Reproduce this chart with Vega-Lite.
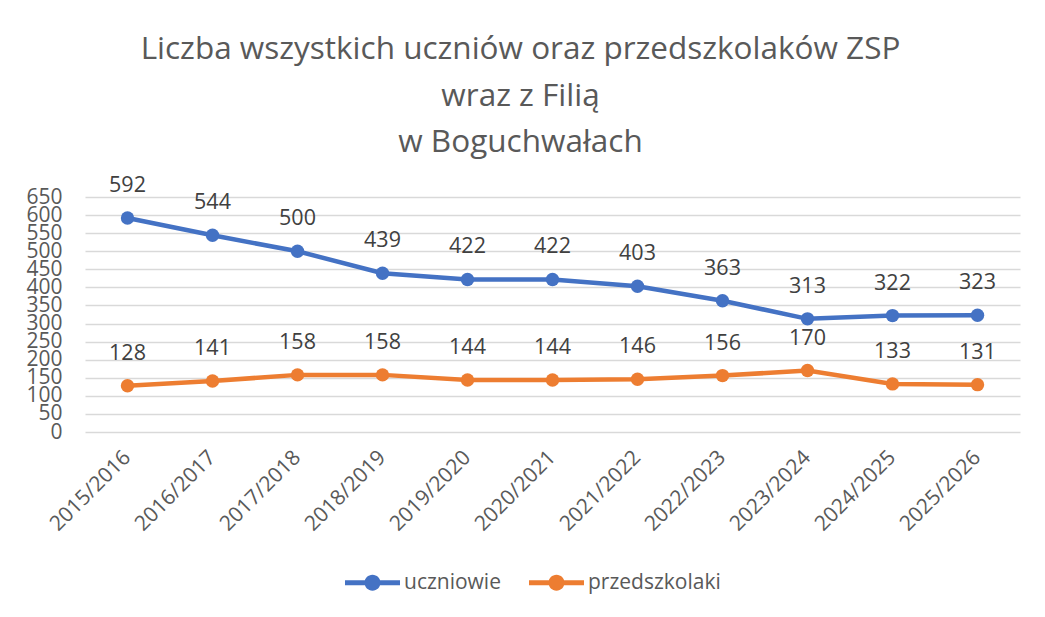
{
  "$schema": "https://vega.github.io/schema/vega-lite/v6.json",
  "width": 935,
  "height": 235,
  "autosize": {"type": "none"},
  "padding": {"left": 85, "top": 197, "right": 25, "bottom": 185},
  "background": "white",
  "config": {
    "font": "Open Sans",
    "view": {"stroke": null}
  },
  "title": {
    "text": ["Liczba wszystkich uczniów oraz przedszkolaków ZSP", "wraz z Filią", "w Boguchwałach"],
    "fontSize": 31.5,
    "fontWeight": "normal",
    "color": "#595959",
    "anchor": "middle",
    "lineHeight": 46.5,
    "offset": 16,
    "dx": -32
  },
  "data": {
    "values": [
      {"rok": "2015/2016", "seria": "uczniowie", "liczba": 592},
      {"rok": "2016/2017", "seria": "uczniowie", "liczba": 544},
      {"rok": "2017/2018", "seria": "uczniowie", "liczba": 500},
      {"rok": "2018/2019", "seria": "uczniowie", "liczba": 439},
      {"rok": "2019/2020", "seria": "uczniowie", "liczba": 422},
      {"rok": "2020/2021", "seria": "uczniowie", "liczba": 422},
      {"rok": "2021/2022", "seria": "uczniowie", "liczba": 403},
      {"rok": "2022/2023", "seria": "uczniowie", "liczba": 363},
      {"rok": "2023/2024", "seria": "uczniowie", "liczba": 313},
      {"rok": "2024/2025", "seria": "uczniowie", "liczba": 322},
      {"rok": "2025/2026", "seria": "uczniowie", "liczba": 323},
      {"rok": "2015/2016", "seria": "przedszkolaki", "liczba": 128},
      {"rok": "2016/2017", "seria": "przedszkolaki", "liczba": 141},
      {"rok": "2017/2018", "seria": "przedszkolaki", "liczba": 158},
      {"rok": "2018/2019", "seria": "przedszkolaki", "liczba": 158},
      {"rok": "2019/2020", "seria": "przedszkolaki", "liczba": 144},
      {"rok": "2020/2021", "seria": "przedszkolaki", "liczba": 144},
      {"rok": "2021/2022", "seria": "przedszkolaki", "liczba": 146},
      {"rok": "2022/2023", "seria": "przedszkolaki", "liczba": 156},
      {"rok": "2023/2024", "seria": "przedszkolaki", "liczba": 170},
      {"rok": "2024/2025", "seria": "przedszkolaki", "liczba": 133},
      {"rok": "2025/2026", "seria": "przedszkolaki", "liczba": 131}
    ]
  },
  "encoding": {
    "x": {
      "field": "rok",
      "type": "nominal",
      "sort": null,
      "scale": {"type": "band", "paddingInner": 0, "paddingOuter": 0},
      "axis": {
        "title": null,
        "labelAngle": -45,
        "labelAlign": "right",
        "labelBaseline": "middle",
        "labelFontSize": 21,
        "labelColor": "#595959",
        "labelPadding": 22,
        "labelOverlap": false,
        "ticks": false,
        "domain": false,
        "grid": false
      }
    },
    "y": {
      "field": "liczba",
      "type": "quantitative",
      "scale": {"domain": [0, 650], "nice": false},
      "axis": {
        "title": null,
        "values": [0, 50, 100, 150, 200, 250, 300, 350, 400, 450, 500, 550, 600, 650],
        "labelFontSize": 21,
        "labelColor": "#595959",
        "labelPadding": 23,
        "labelBaseline": "middle",
        "labelOverlap": false,
        "labelFlush": false,
        "labelBound": false,
        "ticks": false,
        "domain": false,
        "grid": true,
        "gridColor": "#d9d9d9",
        "gridWidth": 1.5
      }
    },
    "color": {
      "field": "seria",
      "type": "nominal",
      "scale": {"domain": ["uczniowie", "przedszkolaki"], "range": ["#4472C4", "#ED7D31"]},
      "legend": {
        "title": null,
        "orient": "none",
        "legendX": 260,
        "legendY": 358,
        "direction": "horizontal",
        "labelFontSize": 21,
        "labelColor": "#595959",
        "labelOffset": 4,
        "columnPadding": 28,
        "symbolType": "M-1,-0.09H-0.27V0.09H-1Z M0.27,-0.09H1V0.09H0.27Z M-0.29,0A0.29,0.29 0 1,1 0.29,0A0.29,0.29 0 1,1 -0.29,0Z",
        "symbolSize": 3025,
        "symbolStrokeWidth": 0,
        "encode": {
          "symbols": {"update": {"fill": {"scale": "color", "field": "value"}, "opacity": {"value": 1}}}
        }
      }
    }
  },
  "layer": [
    {"mark": {"type": "line", "strokeWidth": 4.5}},
    {"mark": {"type": "point", "filled": true, "size": 180, "opacity": 1}},
    {
      "mark": {"type": "text", "dy": -32, "fontSize": 21.5, "color": "#404040"},
      "encoding": {
        "text": {"field": "liczba", "type": "quantitative"},
        "color": {"value": "#404040"}
      }
    }
  ]
}
